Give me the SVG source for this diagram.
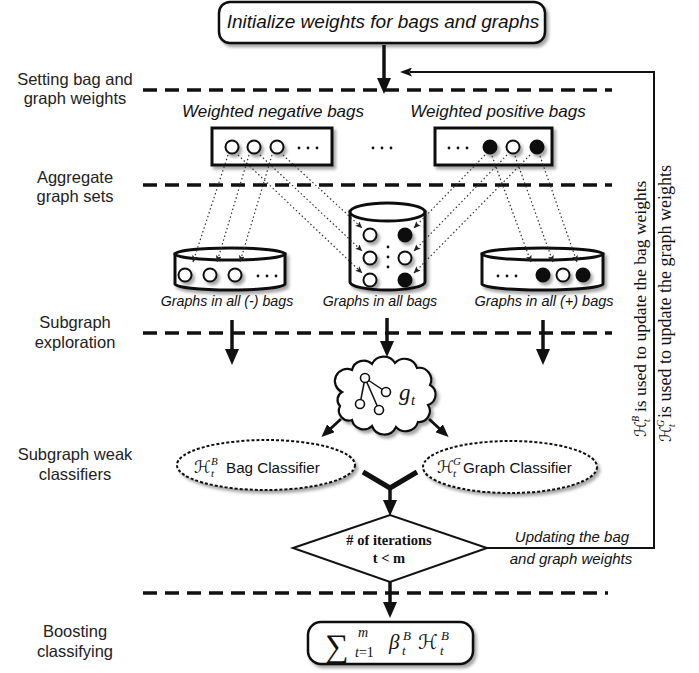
<svg xmlns="http://www.w3.org/2000/svg" width="699" height="673" viewBox="0 0 699 673">
<defs>
  <filter id="sh" x="-30%" y="-30%" width="170%" height="170%">
    <feDropShadow dx="2.5" dy="3" stdDeviation="1.8" flood-color="#000" flood-opacity="0.35"/>
  </filter>
  <marker id="ah" viewBox="0 0 16 14" refX="6" refY="7" markerWidth="16" markerHeight="14" markerUnits="userSpaceOnUse" orient="auto">
    <path d="M0,0 L16,7 L0,14 Z" fill="#111"/>
  </marker>
  <marker id="ahm" viewBox="0 0 13 11" refX="4" refY="5.5" markerWidth="13" markerHeight="11" markerUnits="userSpaceOnUse" orient="auto">
    <path d="M0,0 L13,5.5 L0,11 Z" fill="#111"/>
  </marker>
  <marker id="ahs" viewBox="0 0 12 9" refX="2" refY="4.5" markerWidth="12" markerHeight="9" markerUnits="userSpaceOnUse" orient="auto">
    <path d="M0,0 L12,4.5 L0,9 L2.5,4.5 Z" fill="#111"/>
  </marker>
  <marker id="ahd" viewBox="0 0 7 6" refX="6.5" refY="3" markerWidth="7" markerHeight="6" markerUnits="userSpaceOnUse" orient="auto">
    <path d="M0,0 L7,3 L0,6 L1.5,3 Z" fill="#222"/>
  </marker>
</defs>
<style>
  .lbl { font-family: "Liberation Sans", Arial, sans-serif; font-size: 16.5px; fill: #222; text-anchor: middle; }
  .it { font-family: "Liberation Sans", Arial, sans-serif; font-style: italic; fill: #111; }
  .sans { font-family: "Liberation Sans", Arial, sans-serif; fill: #111; }
  .ser { font-family: "Liberation Serif", "DejaVu Serif", serif; fill: #111; }
  .cal { font-family: "DejaVu Serif", "DejaVu Sans", "Liberation Serif", serif; font-style: italic; fill: #111; }
  .sep { stroke: #111; stroke-width: 3.5; stroke-dasharray: 14 8; fill: none; }
  .box { fill: #fff; stroke: #111; stroke-width: 3; }
  .oc { fill: #fff; stroke: #111; stroke-width: 2; }
  .fc { fill: #111; stroke: #111; stroke-width: 2; }
  .arr { stroke: #111; stroke-width: 3.5; fill: none; }
  .dot { stroke: #333; stroke-width: 1.2; stroke-dasharray: 1.5 2.5; fill: none; }
  .dell { fill: #fff; stroke: #111; stroke-width: 2; stroke-dasharray: 3 2; }
</style>

<!-- stage labels -->
<g id="stage-labels">
  <text class="lbl" x="75" y="85">Setting bag and</text>
  <text class="lbl" x="75" y="104">graph weights</text>
  <text class="lbl" x="75" y="183">Aggregate</text>
  <text class="lbl" x="75" y="202">graph sets</text>
  <text class="lbl" x="75" y="328">Subgraph</text>
  <text class="lbl" x="75" y="348">exploration</text>
  <text class="lbl" x="75" y="460">Subgraph weak</text>
  <text class="lbl" x="75" y="480">classifiers</text>
  <text class="lbl" x="75" y="637">Boosting</text>
  <text class="lbl" x="75" y="657">classifying</text>
</g>

<!-- separators -->
<g id="separators">
  <line class="sep" x1="143" y1="90" x2="612" y2="90"/>
  <line class="sep" x1="143" y1="185" x2="612" y2="185"/>
  <line class="sep" x1="143" y1="333" x2="612" y2="333"/>
  <line class="sep" x1="143" y1="593" x2="608" y2="593"/>
</g>

<!-- init box -->
<g id="init">
  <rect x="219" y="2" width="326" height="41" rx="11" fill="#fff" stroke="#111" stroke-width="2.5" filter="url(#sh)"/>
  <text class="it" x="383" y="28" font-size="19" text-anchor="middle">Initialize weights for bags and graphs</text>
</g>

<!-- negative bags -->
<g id="neg-bags">
  <text class="it" x="273" y="117" font-size="17" text-anchor="middle">Weighted negative bags</text>
  <rect class="box" x="212" y="128" width="120" height="37" filter="url(#sh)"/>
  <g filter="url(#sh)">
    <circle class="oc" cx="232" cy="147" r="6.5"/>
    <circle class="oc" cx="254" cy="147" r="6.5"/>
    <circle class="oc" cx="277" cy="147" r="6.5"/>
  </g>
  <g fill="#111"><circle cx="299" cy="148" r="1.4"/><circle cx="308" cy="148" r="1.4"/><circle cx="317" cy="148" r="1.4"/></g>
</g>

<g id="mid-dots" fill="#111">
  <circle cx="373" cy="148" r="1.4"/><circle cx="382" cy="148" r="1.4"/><circle cx="391" cy="148" r="1.4"/>
</g>

<!-- positive bags -->
<g id="pos-bags">
  <text class="it" x="498" y="117" font-size="17" text-anchor="middle">Weighted positive bags</text>
  <rect class="box" x="435" y="128" width="117" height="37" filter="url(#sh)"/>
  <g fill="#111"><circle cx="449" cy="148" r="1.4"/><circle cx="458" cy="148" r="1.4"/><circle cx="467" cy="148" r="1.4"/></g>
  <g filter="url(#sh)">
    <circle class="fc" cx="490" cy="147" r="6.5"/>
    <circle class="oc" cx="513" cy="147" r="6.5"/>
    <circle class="fc" cx="537" cy="147" r="6.5"/>
  </g>
</g>

<!-- cylinders -->
<g id="neg-graphs">
  <g filter="url(#sh)">
    <path class="box" d="M175,254 L175,284 A55,6 0 0 0 285,284 L285,254 Z"/>
    <ellipse class="box" cx="230" cy="254" rx="55" ry="6"/>
  </g>
  <g filter="url(#sh)">
    <circle class="oc" cx="185" cy="275" r="6.5"/>
    <circle class="oc" cx="210" cy="275" r="6.5"/>
    <circle class="oc" cx="235" cy="275" r="6.5"/>
  </g>
  <g fill="#111"><circle cx="258" cy="276" r="1.4"/><circle cx="267" cy="276" r="1.4"/><circle cx="276" cy="276" r="1.4"/></g>
  <text class="it" x="227" y="306" font-size="14.2" text-anchor="middle">Graphs in all (-) bags</text>
</g>

<g id="all-graphs">
  <g filter="url(#sh)">
    <path class="box" d="M350,212 L350,282 A37.5,8 0 0 0 425,282 L425,212 Z"/>
    <ellipse class="box" cx="387.5" cy="212" rx="37.5" ry="9"/>
  </g>
  <g filter="url(#sh)">
    <circle class="oc" cx="370" cy="235" r="6.5"/>
    <circle class="oc" cx="370" cy="258" r="6.5"/>
    <circle class="oc" cx="370" cy="280" r="6.5"/>
    <circle class="fc" cx="405" cy="235" r="6.5"/>
    <circle class="oc" cx="405" cy="258" r="6.5"/>
    <circle class="fc" cx="405" cy="280" r="6.5"/>
  </g>
  <g fill="#111"><circle cx="388" cy="247" r="1.4"/><circle cx="388" cy="257" r="1.4"/><circle cx="388" cy="267" r="1.4"/></g>
  <text class="it" x="380" y="306" font-size="14.2" text-anchor="middle">Graphs in all bags</text>
</g>

<g id="pos-graphs">
  <g filter="url(#sh)">
    <path class="box" d="M482,254 L482,284 A60.5,6 0 0 0 603,284 L603,254 Z"/>
    <ellipse class="box" cx="542.5" cy="254" rx="60.5" ry="6"/>
  </g>
  <g fill="#111"><circle cx="498" cy="276" r="1.4"/><circle cx="507" cy="276" r="1.4"/><circle cx="516" cy="276" r="1.4"/></g>
  <g filter="url(#sh)">
    <circle class="fc" cx="543" cy="275" r="6.5"/>
    <circle class="oc" cx="563" cy="275" r="6.5"/>
    <circle class="fc" cx="583" cy="275" r="6.5"/>
  </g>
  <text class="it" x="544" y="306" font-size="14.5" text-anchor="middle">Graphs in all (+) bags</text>
</g>

<!-- cloud -->
<g id="subgraph">
  <path d="M342,392 A12,12 0 0 1 352,370 A12,12 0 0 1 372,364 A13,13 0 0 1 395,363 A13,13 0 0 1 417,368 A12,12 0 0 1 430,385 A11,11 0 0 1 428,405 A11,11 0 0 1 418,422 A13,13 0 0 1 396,427 A13,13 0 0 1 372,426 A12,12 0 0 1 352,420 A10,10 0 0 1 340,406 A9,9 0 0 1 342,392 Z" fill="#fff" stroke="#111" stroke-width="2.2" filter="url(#sh)"/>
  <g stroke="#111" stroke-width="1.5" fill="none">
    <line x1="365" y1="378" x2="386" y2="392"/>
    <line x1="365" y1="378" x2="360" y2="404"/>
    <line x1="365" y1="378" x2="379" y2="410"/>
  </g>
  <g stroke="#111" stroke-width="1.6" fill="#fff">
    <circle cx="365" cy="378" r="4.5"/>
    <circle cx="386" cy="392" r="4.5"/>
    <circle cx="360" cy="404" r="4.5"/>
    <circle cx="379" cy="410" r="4.5"/>
  </g>
  <text class="ser" font-style="italic" x="399" y="400" font-size="23">g</text>
  <text class="ser" font-style="italic" x="411" y="405" font-size="15">t</text>
</g>

<!-- weak classifiers -->
<g id="bag-classifier">
  <ellipse class="dell" cx="266" cy="465" rx="89" ry="25" filter="url(#sh)"/>
  <text class="cal" x="194" y="473" font-size="17">ℋ</text>
  <text class="ser" font-style="italic" x="211" y="465" font-size="11">B</text>
  <text class="ser" font-style="italic" x="211" y="477" font-size="11">t</text>
  <text class="sans" x="226" y="473" font-size="15.2">Bag Classifier</text>
</g>

<g id="graph-classifier">
  <ellipse class="dell" cx="510" cy="467" rx="87" ry="26" filter="url(#sh)"/>
  <text class="cal" x="437" y="473" font-size="17">ℋ</text>
  <text class="ser" font-style="italic" x="453" y="465" font-size="11">G</text>
  <text class="ser" font-style="italic" x="453" y="477" font-size="11">t</text>
  <text class="sans" x="463" y="473" font-size="15.2">Graph Classifier</text>
</g>

<!-- decision -->
<g id="decision">
  <polygon points="293,548 390,515 487,548 390,582" fill="#fff" stroke="#111" stroke-width="2"/>
  <text class="ser" font-weight="bold" x="389" y="545" font-size="14.5" text-anchor="middle"># of iterations</text>
  <text class="ser" font-weight="bold" x="389" y="563" font-size="14.5" text-anchor="middle">t &lt; m</text>
</g>

<g id="update-label">
  <text class="it" x="572" y="542" font-size="15" text-anchor="middle">Updating the bag</text>
  <text class="it" x="571" y="564" font-size="15" text-anchor="middle">and graph weights</text>
</g>

<!-- final classifier -->
<g id="boost">
  <rect x="308" y="622" width="165" height="42" rx="13" fill="#fff" stroke="#111" stroke-width="2.5" filter="url(#sh)"/>
  <text class="ser" x="325" y="657" font-size="33">∑</text>
  <text class="ser" font-style="italic" x="358" y="637" font-size="14">m</text>
  <text class="ser" x="355" y="657" font-size="14"><tspan font-style="italic">t</tspan>=1</text>
  <text class="ser" font-style="italic" x="389" y="649" font-size="21">β</text>
  <text class="ser" font-style="italic" x="403" y="640" font-size="13">B</text>
  <text class="ser" font-style="italic" x="402" y="655" font-size="13">t</text>
  <text class="cal" x="418" y="649" font-size="20">ℋ</text>
  <text class="ser" font-style="italic" x="441" y="640" font-size="13">B</text>
  <text class="ser" font-style="italic" x="440" y="655" font-size="13">t</text>
</g>

<!-- rotated notes -->
<g id="notes">
  <text transform="translate(646,437) rotate(-90)" class="ser" font-size="17.5"><tspan class="cal" font-size="16">ℋ</tspan><tspan x="15" y="-7" font-size="10" font-style="italic">B</tspan><tspan x="15" y="4" font-size="10" font-style="italic">t</tspan><tspan x="25" y="0">is used to update the bag weights</tspan></text>
  <text transform="translate(671,442) rotate(-90)" class="ser" font-size="18"><tspan class="cal" font-size="16">ℋ</tspan><tspan x="15" y="-7" font-size="10" font-style="italic">G</tspan><tspan x="15" y="4" font-size="10" font-style="italic">t</tspan><tspan x="24" y="0">is used to update the graph weights</tspan></text>
</g>

<!-- connectors -->
<g id="connectors">
  <line class="arr" x1="384" y1="45" x2="384" y2="84" marker-end="url(#ah)"/>
  <line class="arr" x1="232" y1="320" x2="232" y2="355" marker-end="url(#ah)"/>
  <line class="arr" x1="387" y1="318" x2="387" y2="347" marker-end="url(#ah)"/>
  <line class="arr" x1="543" y1="320" x2="543" y2="355" marker-end="url(#ah)"/>
  <line stroke="#111" stroke-width="2.8" x1="341" y1="419" x2="328" y2="431" marker-end="url(#ahm)"/>
  <line stroke="#111" stroke-width="2.8" x1="429" y1="419" x2="442" y2="431" marker-end="url(#ahm)"/>
  <polyline points="363,472 390,488 417,472" fill="none" stroke="#111" stroke-width="5" stroke-linejoin="miter"/>
  <line class="arr" x1="390" y1="488" x2="390" y2="506" marker-end="url(#ah)"/>
  <line class="arr" x1="390" y1="582" x2="390" y2="608" marker-end="url(#ah)"/>
  <polyline points="487,548 654,548 654,72 410,72" fill="none" stroke="#111" stroke-width="2" marker-end="url(#ahs)"/>

  <!-- dotted: negative bag to (-) cylinder -->
  <line class="dot" x1="228" y1="155" x2="193" y2="262" marker-end="url(#ahd)"/>
  <line class="dot" x1="249" y1="155" x2="217" y2="262" marker-end="url(#ahd)"/>
  <line class="dot" x1="272" y1="155" x2="240" y2="262" marker-end="url(#ahd)"/>
  <!-- negative bag to all cylinder -->
  <line class="dot" x1="238" y1="155" x2="362" y2="273" marker-end="url(#ahd)"/>
  <line class="dot" x1="260" y1="155" x2="362" y2="251" marker-end="url(#ahd)"/>
  <line class="dot" x1="283" y1="155" x2="362" y2="228" marker-end="url(#ahd)"/>
  <!-- positive bag to all cylinder -->
  <line class="dot" x1="485" y1="155" x2="414" y2="228" marker-end="url(#ahd)"/>
  <line class="dot" x1="507" y1="155" x2="414" y2="251" marker-end="url(#ahd)"/>
  <line class="dot" x1="530" y1="155" x2="414" y2="273" marker-end="url(#ahd)"/>
  <!-- positive bag to (+) cylinder -->
  <line class="dot" x1="492" y1="156" x2="531" y2="262" marker-end="url(#ahd)"/>
  <line class="dot" x1="515" y1="156" x2="553" y2="262" marker-end="url(#ahd)"/>
  <line class="dot" x1="540" y1="156" x2="577" y2="262" marker-end="url(#ahd)"/>
</g>
</svg>
